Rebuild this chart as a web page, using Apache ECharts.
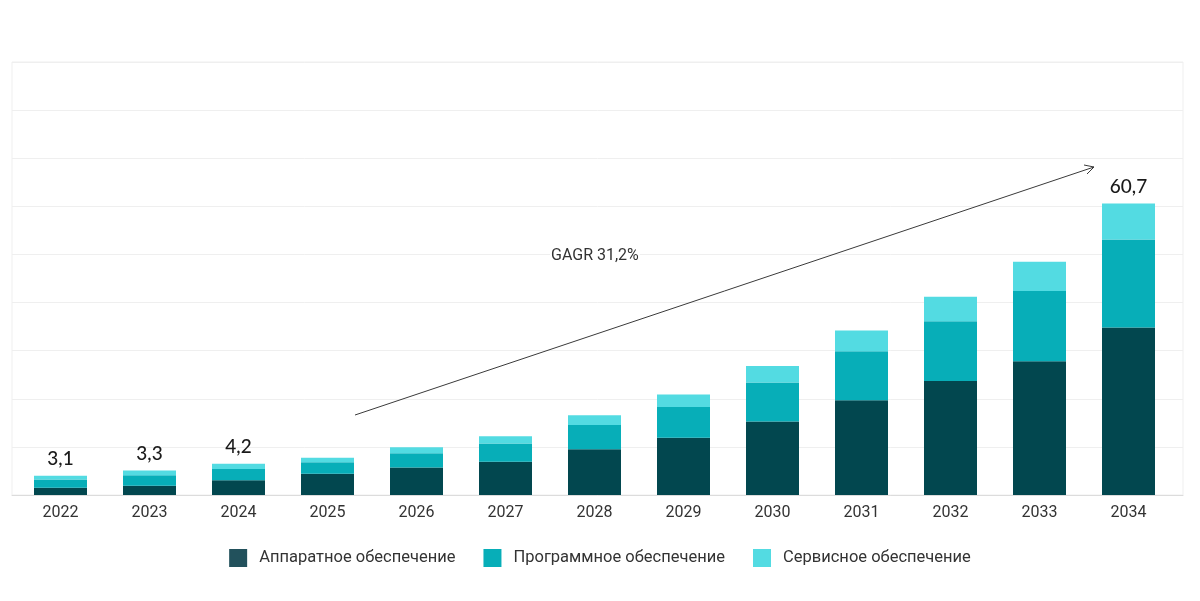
<!DOCTYPE html>
<html>
<head>
<meta charset="utf-8">
<script src="https://cdn.jsdelivr.net/npm/echarts@6/dist/echarts.min.js"></script>
<style>html,body{margin:0;padding:0;background:#fff}#c{width:1200px;height:601px}</style>
</head>
<body>
<div id="c"></div>
<script>
const categories = ['2022','2023','2024','2025','2026','2027','2028','2029','2030','2031','2032','2033','2034'];
const hardware = [1.5, 1.9, 3.05, 4.4, 5.7, 6.9, 9.5, 11.9, 15.3, 19.7, 23.7, 27.8, 34.8];
const software = [1.7, 2.2, 2.35, 2.4, 3.0, 3.8, 5.05, 6.4, 8.1, 10.2, 12.4, 14.6, 18.3];
const services = [0.8, 1.0, 1.1, 0.95, 1.2, 1.5, 2.05, 2.6, 3.4, 4.3, 5.1, 6.1, 7.5];
const totalLabels = ['3,1','3,3','4,2','','','','','','','','','','60,7'];
const seriesNames = ['Аппаратное обеспечение','Программное обеспечение','Сервисное обеспечение'];
const cagrText = 'GAGR 31,2%';

const FONT = 'Roboto, "Noto Sans", sans-serif';
const chart = echarts.init(document.getElementById('c'));
const colors = ['#02474f', '#07aeb8', '#53dbe2'];

chart.setOption({
  animation: false,
  textStyle: { fontFamily: FONT },
  grid: [
    { left: 12, right: 17, top: 62, bottom: 106, show: true, borderColor: '#efefef', borderWidth: 1 },
    { left: 16, right: 27, top: 62, bottom: 106 }
  ],
  xAxis: [
    { gridIndex: 0, type: 'value', min: 0, max: 1, show: true,
      axisLine: { show: true, lineStyle: { color: '#dcdcdc', width: 1 } },
      axisTick: { show: false }, axisLabel: { show: false }, splitLine: { show: false } },
    { gridIndex: 1, type: 'category', data: categories,
      axisLine: { show: false }, axisTick: { show: false },
      axisLabel: { color: '#333', fontSize: 16, margin: 10, fontFamily: FONT } }
  ],
  yAxis: [
    { gridIndex: 0, type: 'value', min: 0, max: 90, interval: 10,
      axisLabel: { show: false }, axisLine: { show: false }, axisTick: { show: false },
      splitLine: { show: true, lineStyle: { color: '#efefef', width: 1 } } },
    { gridIndex: 1, type: 'value', min: 0, max: 90, interval: 10, show: false,
      splitLine: { show: false } }
  ],
  legend: {
    left: 'center', top: 544, icon: 'rect', itemWidth: 18, itemHeight: 18, itemGap: 28,
    textStyle: { fontSize: 16.5, color: '#333', fontFamily: FONT, padding: [0, 0, 0, 7] },
    data: [
      { name: seriesNames[0], itemStyle: { color: '#22515c' } },
      { name: seriesNames[1], itemStyle: { color: colors[1] } },
      { name: seriesNames[2], itemStyle: { color: colors[2] } }
    ]
  },
  series: [
    { name: seriesNames[0], type: 'bar', stack: 't', xAxisIndex: 1, yAxisIndex: 1,
      data: hardware, barWidth: 53, itemStyle: { color: colors[0] } },
    { name: seriesNames[1], type: 'bar', stack: 't', xAxisIndex: 1, yAxisIndex: 1,
      data: software, barWidth: 53, itemStyle: { color: colors[1] } },
    { name: seriesNames[2], type: 'bar', stack: 't', xAxisIndex: 1, yAxisIndex: 1,
      data: services, barWidth: 53, itemStyle: { color: colors[2] },
      label: { show: true, position: 'top', distance: 7, color: '#1a1a1a', fontSize: 19,
        fontWeight: 500, fontFamily: 'Lato, Roboto, sans-serif',
        formatter: p => totalLabels[p.dataIndex] } }
  ],
  graphic: [
    { type: 'line', z: 100, shape: { x1: 355, y1: 415, x2: 1094, y2: 167 },
      style: { stroke: '#3a3a3a', lineWidth: 1 } },
    { type: 'polyline', z: 100, shape: { points: [[1084, 165], [1094, 167], [1087, 174]] },
      style: { stroke: '#3a3a3a', lineWidth: 1, fill: null } },
    { type: 'text', z: 100, left: 550, top: 246,
      style: { text: cagrText, fontSize: 16, fill: '#333', fontFamily: FONT,
        backgroundColor: '#fff', padding: [2, 1] } }
  ]
});
</script>
</body>
</html>
